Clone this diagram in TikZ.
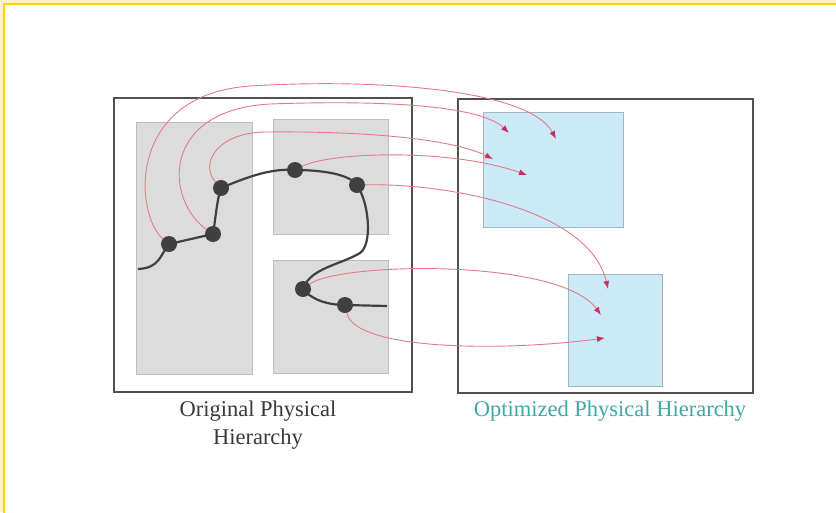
\documentclass[tikz,border=0pt]{standalone}
\usepackage{fontspec}
\setmainfont{Liberation Serif}
\usepackage{xcolor}
\usepackage{tikz}
\usetikzlibrary{arrows.meta}

\definecolor{frameyellow}{HTML}{FFD400}
\definecolor{paleyellow}{HTML}{FFF0C6}
\definecolor{boxline}{HTML}{505050}
\definecolor{blockgray}{HTML}{DCDCDC}
\definecolor{blockedge}{HTML}{BDBDBD}
\definecolor{blockblue}{HTML}{CCE9F7}
\definecolor{blueedge}{HTML}{A3B6C0}
\definecolor{dotgray}{HTML}{404040}
\definecolor{linkred}{HTML}{E27A88}
\definecolor{tipred}{HTML}{C8325A}
\definecolor{labelgray}{HTML}{3A3A3A}
\definecolor{labelteal}{HTML}{3FA9A3}

\begin{document}
\begin{tikzpicture}[x=1pt, y=-1pt,
    outer/.style={draw=boxline, line width=2pt},
    grayblock/.style={fill=blockgray, draw=blockedge, line width=0.8pt},
    blueblock/.style={fill=blockblue, draw=blueedge, line width=0.8pt},
    wire/.style={draw=dotgray, line width=2.2pt},
    pin/.style={shape=circle, fill=dotgray, minimum size=16pt, inner sep=0pt},
    link/.style={draw=linkred, line width=0.9pt, -{Latex[length=8pt, width=6pt, color=tipred]}},
    caption/.style={font=\fontsize{22.5}{28}\selectfont, align=center, inner sep=0pt}]

    \useasboundingbox (0,0) rectangle (836,512);
    % frame round the whole figure
    \fill[paleyellow] (0,0) rectangle (836,512);
    \fill[white] (4,4) rectangle (836,512);
    \draw[frameyellow, line width=2pt] (4,520) -- (4,4) -- (840,4);

    % original hierarchy
    \draw[outer] (114,98) rectangle (412,392);
    \draw[grayblock] (136,122) rectangle (252,374);
    \draw[grayblock] (273,119) rectangle (388,234);
    \draw[grayblock] (273,260) rectangle (388,373);

    % optimized hierarchy
    \draw[outer] (458,99) rectangle (753,393);
    \draw[blueblock] (483,112) rectangle (623,227);
    \draw[blueblock] (568,274) rectangle (662,386);

    % wire through the pins
    \coordinate (w0) at (138,269);
    \coordinate (w1) at (387,306);
    \coordinate (p1) at (169,244);
    \coordinate (p2) at (213,234);
    \coordinate (p3) at (221,188);
    \coordinate (p4) at (295,170);
    \coordinate (p5) at (357,185);
    \coordinate (p6) at (303,289);
    \coordinate (p7) at (345,305);
    \draw[wire] (w0) .. controls (160,268) and (160,255) .. (p1) -- (p2)
        .. controls (216,215) and (217,200) .. (p3)
        .. controls (245,178) and (270,168) .. (p4)
        .. controls (325,170) and (350,175) .. (p5)
        .. controls (370,205) and (372,245) .. (360,253)
        .. controls (340,265) and (310,268) .. (p6)
        .. controls (310,298) and (325,305) .. (p7) -- (w1);

    \node[pin] (v1) at (p1) {};
    \node[pin] (v2) at (p2) {};
    \node[pin] (v3) at (p3) {};
    \node[pin] (v4) at (p4) {};
    \node[pin] (v5) at (p5) {};
    \node[pin] (v6) at (p6) {};
    \node[pin] (v7) at (p7) {};

    % new places of the pins
    \coordinate (t1) at (556,139);
    \coordinate (t2) at (509,133);
    \coordinate (t3) at (493,159);
    \coordinate (t4) at (527,175);
    \coordinate (t5) at (608,289);
    \coordinate (t6) at (601,315);
    \coordinate (t7) at (605,338);

    \draw[link] (v1) .. controls (135,215) and (125,95) .. (250,86)
        .. controls (380,78) and (530,90) .. (t1);
    \draw[link] (v2) .. controls (165,200) and (160,110) .. (270,104)
        .. controls (380,100) and (480,105) .. (t2);
    \draw[link] (v3) .. controls (200,165) and (215,133) .. (265,132)
        .. controls (360,131) and (450,138) .. (t3);
    \draw[link] (v4) .. controls (330,152) and (450,148) .. (t4);
    \draw[link] (v5) .. controls (450,183) and (590,210) .. (t5);
    \draw[link] (v6) .. controls (340,262) and (560,258) .. (t6);
    \draw[link] (v7) .. controls (355,350) and (500,352) .. (t7);

    % captions
    \node[caption, text=labelgray, anchor=north] (orig) at (258,401) {Original Physical\\Hierarchy};
    \node[caption, text=labelteal, anchor=north] (opt) at (610,401) {Optimized Physical Hierarchy};

\end{tikzpicture}
\end{document}
